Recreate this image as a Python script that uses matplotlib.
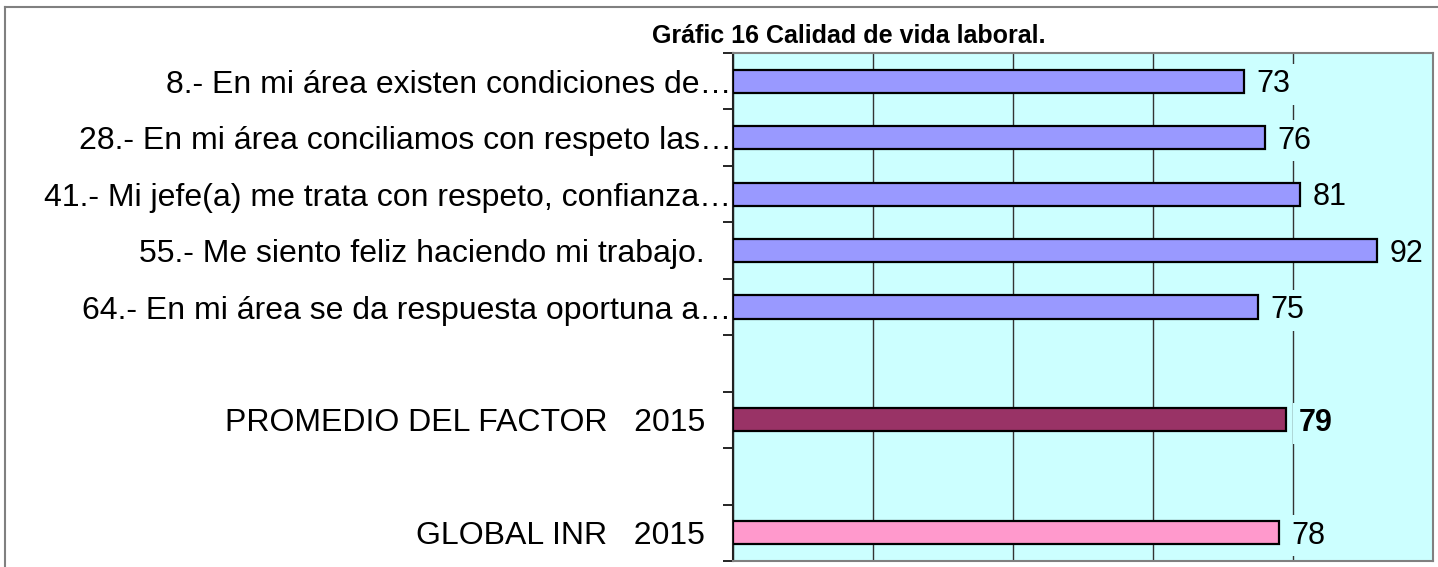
import matplotlib.pyplot as plt
from matplotlib.lines import Line2D
from matplotlib.ticker import FixedLocator

plt.rcParams['font.family'] = ['Liberation Sans', 'DejaVu Sans']

# Categories (top to bottom), blanks are spacer rows
labels = [
    "8.- En mi área existen condiciones de…",
    "28.- En mi área conciliamos con respeto las…",
    "41.- Mi jefe(a) me trata con respeto, confianza…",
    "55.- Me siento feliz haciendo mi trabajo.   ",
    "64.- En mi área se da respuesta oportuna a…",
    "",
    "PROMEDIO DEL FACTOR   2015   ",
    "",
    "GLOBAL INR   2015   ",
]
values = [73, 76, 81, 92, 75, None, 79, None, 78]
colors = ['#9999FF'] * 5 + [None, '#993366', None, '#FF99CC']
bold = [False] * 6 + [True, False, False]

bg = '#CCFFFF'

fig = plt.figure(figsize=(14.38, 5.67), dpi=100)
ax = fig.add_axes([733 / 1438, 1 - 561 / 567, 700 / 1438, 508 / 567])
ax.set_facecolor(bg)

ypos = list(range(len(labels)))
for y, v, c in zip(ypos, values, colors):
    if v is None:
        continue
    ax.barh(y, v, height=0.41, color=c, edgecolor='black', linewidth=1.6, zorder=3)

ax.set_xlim(0, 100)
ax.set_ylim(len(labels) - 0.5, -0.5)
ax.set_xticks([0, 20, 40, 60, 80, 100])
ax.tick_params(axis='x', length=0, labelbottom=False)
ax.grid(axis='x', color='#333333', linewidth=1, zorder=1)

ax.set_yticks(ypos)
ax.set_yticklabels(labels, fontsize=23)
ax.tick_params(axis='y', which='major', length=0, pad=1)
ax.yaxis.set_minor_locator(FixedLocator([y + 0.5 for y in ypos[:-1]] + [-0.5, len(labels) - 0.5]))
ax.tick_params(axis='y', which='minor', length=7, width=1.2, color='black')

for y, v, b in zip(ypos, values, bold):
    if v is None:
        continue
    ax.annotate(str(v), (v, y), xytext=(9, -8), textcoords='offset points',
                ha='left', va='baseline', fontsize=22,
                fontweight='bold' if b else 'normal', zorder=4,
                bbox=dict(facecolor=bg, edgecolor='none', pad=4),
                annotation_clip=False)

for side in ['top', 'right', 'bottom']:
    ax.spines[side].set_color('#808080')
    ax.spines[side].set_linewidth(1.5)
ax.spines['left'].set_color('#222222')
ax.spines['left'].set_linewidth(1.5)

fig.text(849 / 1438, 1 - 43 / 567, "Gráfic 16 Calidad de vida laboral.",
         ha='center', va='baseline', fontsize=18, fontweight='bold')

# outer frame
fig.add_artist(Line2D([5 / 1438, 1], [1 - 7 / 567, 1 - 7 / 567], color='#808080', lw=1.5))
fig.add_artist(Line2D([5 / 1438, 5 / 1438], [0, 1 - 7 / 567], color='#808080', lw=1.5))

fig.savefig('out.png', dpi=100)
